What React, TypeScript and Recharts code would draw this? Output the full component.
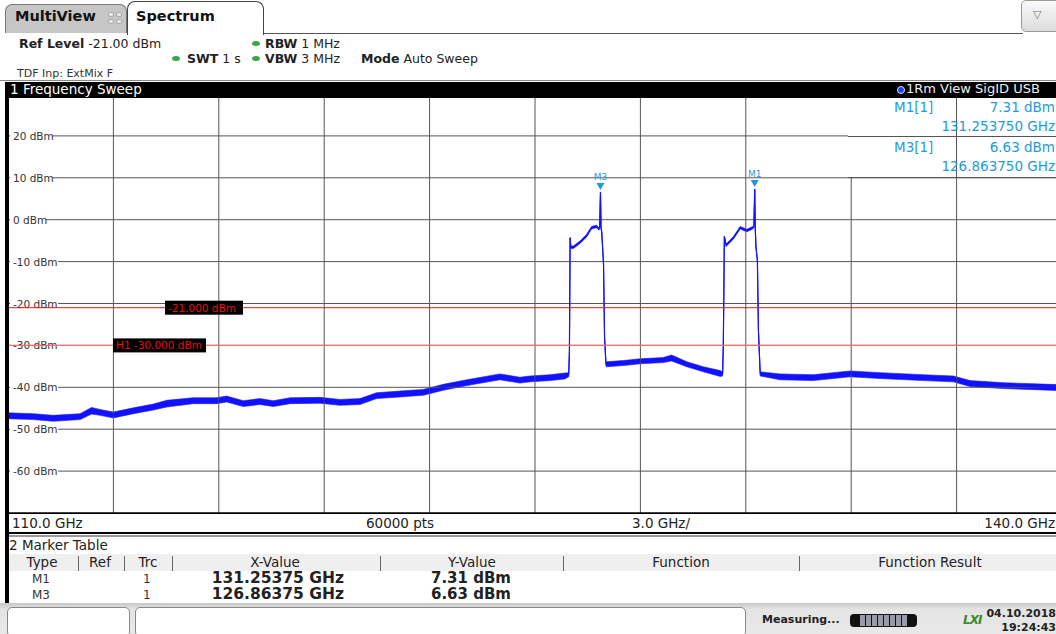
import React from 'react';
import { ComposedChart, Area, Line, XAxis, YAxis, ReferenceLine, ReferenceDot } from 'recharts';

// trace: frequency (GHz), level (dBm), half-height of the noise band (dB)
const freqGHz = [
  110.0, 110.72, 111.29, 112.05, 112.38, 112.62, 113.0, 113.57, 114.14, 114.52,
  115.27, 115.94, 116.22, 116.7, 117.17, 117.55, 118.03, 118.88, 119.45, 120.02,
  120.49, 121.16, 121.82, 122.39, 123.06, 124.0, 124.57, 124.86, 125.43, 125.85,
  125.96, 125.98, 126.0, 126.02, 126.09, 126.28, 126.47, 126.61, 126.75, 126.82,
  126.84, 126.86375, 126.88, 126.9, 126.95, 126.98, 127.02, 127.04, 127.52, 127.99,
  128.65, 128.89, 129.32, 129.79, 130.27, 130.34, 130.36, 130.39, 130.44, 130.65,
  130.84, 131.03, 131.2, 131.23, 131.25375, 131.27, 131.29, 131.33, 131.36, 131.41,
  131.97, 132.92, 133.97, 134.82, 136.05, 136.91, 137.38, 138.33, 139.66, 140.0,
];
const levelDbm = [
  -46.8, -47.0, -47.4, -47.0, -45.6, -46.0, -46.6, -45.6, -44.7, -43.9,
  -43.2, -43.2, -42.8, -43.9, -43.4, -43.9, -43.2, -43.1, -43.6, -43.4,
  -42.0, -41.6, -41.2, -40.0, -38.9, -37.5, -38.3, -38.0, -37.7, -37.3,
  -37.0, -31.3, -4.3, -6.6, -6.6, -5.4, -3.8, -1.9, -1.6, -2.2,
  -1.8, 6.63, -1.9, -3.0, -10.5, -28.1, -34.5, -34.5, -34.2, -33.8,
  -33.5, -33.0, -34.5, -35.7, -36.7, -36.8, -30.0, -4.0, -6.1, -4.3,
  -1.9, -2.6, -1.9, -1.7, 7.31, -2.2, -6.6, -9.7, -26.5, -36.8,
  -37.5, -37.7, -36.8, -37.2, -37.7, -38.0, -39.1, -39.6, -40.0, -40.1,
];
const noiseDb = [
  0.7, 0.7, 0.7, 0.7, 0.8, 0.7, 0.7, 0.7, 0.7, 0.8,
  0.7, 0.7, 0.7, 0.7, 0.7, 0.7, 0.7, 0.7, 0.7, 0.7,
  0.7, 0.7, 0.7, 0.7, 0.7, 0.7, 0.7, 0.7, 0.7, 0.7,
  0.5, 0, 0, 0.3, 0.3, 0.3, 0.3, 0.3, 0.3, 0.3,
  0, 0, 0, 0.3, 0, 0, 0.5, 0.6, 0.6, 0.6,
  0.6, 0.7, 0.6, 0.6, 0.7, 0.5, 0, 0, 0.3, 0.3,
  0.3, 0.3, 0.3, 0, 0, 0, 0.3, 0, 0, 0.5,
  0.7, 0.7, 0.7, 0.7, 0.7, 0.7, 0.7, 0.7, 0.7, 0.7,
];

const levelTicks = [20, 10, 0, -10, -20, -30, -40, -50, -60];
const freqTicks = [113, 116, 119, 122, 125, 128, 131, 134, 137];

const markers = [
  { name: 'M1', freq: 131.25375, level: 7.31, freqText: '131.25375 GHz', freqLong: '131.253750 GHz', levelText: '7.31 dBm' },
  { name: 'M3', freq: 126.86375, level: 6.63, freqText: '126.86375 GHz', freqLong: '126.863750 GHz', levelText: '6.63 dBm' },
];

const REF_LINE = -21;
const H1_LINE = -30;

const data = freqGHz.map((f, i) => ({
  f,
  level: levelDbm[i],
  band: [levelDbm[i] - noiseDb[i], levelDbm[i] + noiseDb[i]],
}));

const BLUE = '#1212ff';
const MARK = '#1f9ad8';
const FONT = '"DejaVu Sans", Verdana, sans-serif';

const abs = (left: number, top: number, extra: React.CSSProperties = {}): React.CSSProperties => ({
  position: 'absolute', left, top, ...extra,
});

const GridLabel = ({ viewBox, value }: any) => {
  const text = `${value} dBm`;
  const w = text.length * 6.3 + 4;
  return (
    <g>
      <rect x={viewBox.x + 2} y={viewBox.y - 7} width={w} height={14} fill="#fff" />
      <text x={viewBox.x + 5} y={viewBox.y + 4} fontSize={10.5} fill="#333" fontFamily={FONT}>{text}</text>
    </g>
  );
};

const LineTag = ({ viewBox, text, dx, w }: any) => (
  <g>
    <rect x={viewBox.x + dx} y={viewBox.y - 7} width={w} height={14} fill="#000" />
    <text x={viewBox.x + dx + 3} y={viewBox.y + 4} fontSize={10.5} fill="#e01010" fontFamily={FONT}>{text}</text>
  </g>
);

const MarkerShape = ({ cx, cy, name }: any) => (
  <g>
    <polygon points={`${cx - 4},${cy - 9} ${cx + 4},${cy - 9} ${cx},${cy - 2}`} fill={MARK} />
    <text x={cx} y={cy - 12} fontSize={9} fill={MARK} textAnchor="middle" fontFamily={FONT}>{name}</text>
  </g>
);

const Dot = ({ x, y }: { x: number; y: number }) => (
  <div style={abs(x, y, { width: 8, height: 5, borderRadius: '50%', background: '#3aa84a' })} />
);

export default function App() {
  return (
    <div style={{ position: 'fixed', left: 0, top: 0, width: 1056, height: 634, overflow: 'hidden', background: '#fff', fontFamily: FONT, color: '#222' }}>
      <ComposedChart width={1070} height={520} data={data} margin={{ top: 94, right: 8, bottom: 7, left: 8 }}>
        <XAxis type="number" dataKey="f" domain={[110, 140]} hide allowDataOverflow />
        <YAxis type="number" domain={[-70, 30]} hide allowDataOverflow />
        {freqTicks.map((f) => (
          <ReferenceLine key={`v${f}`} x={f} stroke="#555" strokeWidth={1} />
        ))}
        {levelTicks.map((v) => (
          <ReferenceLine key={`h${v}`} y={v} stroke="#555" strokeWidth={1}
            label={(p: any) => <GridLabel viewBox={p.viewBox} value={v} />} />
        ))}
        <ReferenceLine y={-70} stroke="#000" strokeWidth={1.5} />
        <Area dataKey="band" type="linear" stroke={BLUE} strokeWidth={0.6} fill={BLUE} fillOpacity={1} isAnimationActive={false} />
        <Line dataKey="level" type="linear" stroke={BLUE} strokeWidth={1.2} dot={false} isAnimationActive={false} />
        <ReferenceLine y={REF_LINE} stroke="#e01818" strokeWidth={1}
          label={(p: any) => <LineTag viewBox={p.viewBox} text="-21.000 dBm" dx={157} w={78} />} />
        <ReferenceLine y={H1_LINE} stroke="#ff6a6a" strokeWidth={1.3}
          label={(p: any) => <LineTag viewBox={p.viewBox} text="H1 -30.000 dBm" dx={105} w={93} />} />
        {markers.map((m) => (
          <ReferenceDot key={m.name} x={m.freq} y={m.level} r={0}
            shape={(p: any) => <MarkerShape cx={p.cx} cy={p.cy} name={m.name} />} />
        ))}
      </ComposedChart>

      {/* tab strip */}
      <div style={abs(0, 0, { width: 1056, height: 34, background: '#fff' })} />
      <div style={abs(263, 33, { width: 760, height: 1, background: '#555' })} />
      <div style={abs(5, 4, { width: 122, height: 29, background: '#c6c6c6', border: '1px solid #777', borderBottom: 'none', borderRadius: '7px 7px 0 0', boxSizing: 'border-box' })} />
      <div style={abs(15, 8, { fontSize: 14.5, fontWeight: 'bold', color: '#111' })}>MultiView</div>
      <div style={abs(108, 12, { width: 14, height: 12, display: 'grid', gridTemplateColumns: '6px 6px', gap: 2 })}>
        {[0, 1, 2, 3].map((i) => <div key={i} style={{ width: 6, height: 5, borderRadius: 2, background: '#e8e8e8', border: '1px solid #aaa', boxSizing: 'border-box' }} />)}
      </div>
      <div style={abs(127, 1, { width: 137, height: 34, background: '#fff', border: '1px solid #444', borderBottom: 'none', borderRadius: '8px 8px 0 0', boxSizing: 'border-box' })} />
      <div style={abs(136, 8, { fontSize: 14.5, fontWeight: 'bold', color: '#111' })}>Spectrum</div>
      <div style={abs(1021, 0, { width: 40, height: 32, background: 'linear-gradient(#fafafa,#dcdcdc)', border: '1px solid #999', borderRadius: 5, boxSizing: 'border-box' })} />
      <div style={abs(1033, 8, { fontSize: 11, color: '#777' })}>▽</div>

      {/* settings */}
      <div style={abs(19, 36, { fontSize: 12.5, whiteSpace: 'nowrap' })}><b>Ref Level</b> -21.00 dBm</div>
      <Dot x={252} y={41} />
      <div style={abs(265, 36, { fontSize: 12.5, whiteSpace: 'nowrap' })}><b>RBW</b> 1 MHz</div>
      <Dot x={172} y={56} />
      <div style={abs(187, 51, { fontSize: 12.5, whiteSpace: 'nowrap' })}><b>SWT</b> 1 s</div>
      <Dot x={252} y={56} />
      <div style={abs(265, 51, { fontSize: 12.5, whiteSpace: 'nowrap' })}><b>VBW</b> 3 MHz</div>
      <div style={abs(361, 51, { fontSize: 12.5, whiteSpace: 'nowrap' })}><b>Mode</b> Auto Sweep</div>
      <div style={abs(17, 67, { fontSize: 11, whiteSpace: 'nowrap', color: '#333' })}>TDF Inp: ExtMix F</div>
      <div style={abs(0, 80, { width: 1056, height: 1, background: '#888' })} />

      {/* window 1 title */}
      <div style={abs(5, 82, { width: 1051, height: 16, background: '#000' })} />
      <div style={abs(10, 81, { fontSize: 13.5, color: '#fff', whiteSpace: 'nowrap' })}>1 Frequency Sweep</div>
      <div style={abs(897, 86, { width: 8, height: 8, borderRadius: '50%', background: '#2040ff', border: '1px solid #ddd', boxSizing: 'border-box' })} />
      <div style={abs(906, 81, { fontSize: 13, color: '#eee', whiteSpace: 'nowrap' })}>1Rm View SigID USB</div>
      <div style={abs(5, 82, { width: 4, height: 523, background: '#000' })} />

      {/* marker readout */}
      <div style={abs(848, 98, { width: 213, height: 80, background: '#fff' })} />
      <div style={abs(848, 136, { width: 213, height: 1, background: '#555' })} />
      <div style={abs(848, 177, { width: 213, height: 1, background: '#555' })} />
      <div style={abs(956, 98, { width: 1, height: 80, background: '#555' })} />
      {markers.map((m, i) => (
        <React.Fragment key={m.name}>
          <div style={abs(894, 99 + i * 40, { fontSize: 13.5, color: MARK })}>{m.name}[1]</div>
          <div style={abs(934, 99 + i * 40, { width: 121, textAlign: 'right', fontSize: 13.5, color: MARK, whiteSpace: 'nowrap' })}>{m.levelText}</div>
          <div style={abs(890, 118 + i * 40, { width: 165, textAlign: 'right', fontSize: 13.5, color: MARK, whiteSpace: 'nowrap' })}>{m.freqLong}</div>
        </React.Fragment>
      ))}

      {/* footer of sweep window */}
      <div style={abs(9, 514, { width: 1047, height: 19, background: '#fff' })} />
      <div style={abs(9, 513, { width: 1047, height: 1, background: '#000' })} />
      <div style={abs(12, 515, { fontSize: 13.5 })}>110.0 GHz</div>
      <div style={abs(366, 515, { fontSize: 13.5 })}>60000 pts</div>
      <div style={abs(632, 515, { fontSize: 13.5 })}>3.0 GHz/</div>
      <div style={abs(939, 515, { width: 116, textAlign: 'right', fontSize: 13.5, whiteSpace: 'nowrap' })}>140.0 GHz</div>
      <div style={abs(9, 532, { width: 1047, height: 1.5, background: '#000' })} />
      <div style={abs(9, 535, { width: 1047, height: 1.5, background: '#999' })} />

      {/* marker table */}
      <div style={abs(9, 537, { fontSize: 13.5, whiteSpace: 'nowrap' })}>2 Marker Table</div>
      <div style={abs(9, 554, { width: 1047, height: 17, background: '#efefef' })} />
      {[
        { t: 'Type', c: 42 }, { t: 'Ref', c: 100 }, { t: 'Trc', c: 148 }, { t: 'X-Value', c: 275 },
        { t: 'Y-Value', c: 472 }, { t: 'Function', c: 681 }, { t: 'Function Result', c: 930 },
      ].map((h) => (
        <div key={h.t} style={abs(h.c - 80, 554, { width: 160, textAlign: 'center', fontSize: 13.5 })}>{h.t}</div>
      ))}
      {[78, 124, 172, 380, 563, 799].map((x) => (
        <div key={x} style={abs(x, 556, { width: 1, height: 15, background: '#666' })} />
      ))}
      {markers.map((m, i) => (
        <React.Fragment key={m.name}>
          <div style={abs(32, 572 + i * 16, { fontSize: 12, color: '#333' })}>{m.name}</div>
          <div style={abs(143, 572 + i * 16, { fontSize: 12, color: '#333' })}>1</div>
          <div style={abs(150, 569 + i * 16, { width: 194, textAlign: 'right', fontSize: 15.5, fontWeight: 'bold', whiteSpace: 'nowrap' })}>{m.freqText}</div>
          <div style={abs(380, 569 + i * 16, { width: 131, textAlign: 'right', fontSize: 15, fontWeight: 'bold', whiteSpace: 'nowrap' })}>{m.levelText}</div>
        </React.Fragment>
      ))}

      {/* status bar */}
      <div style={abs(0, 603, { width: 1056, height: 31, background: 'linear-gradient(#c8c8c8,#e4e4e4 20%,#e8e8e8)' })} />
      <div style={abs(7, 607, { width: 123, height: 30, background: '#fff', border: '1px solid #888', borderRadius: 5, boxSizing: 'border-box' })} />
      <div style={abs(135, 607, { width: 611, height: 30, background: '#fff', border: '1px solid #888', borderRadius: 5, boxSizing: 'border-box' })} />
      <div style={abs(762, 613, { fontSize: 11, fontWeight: 'bold', color: '#222' })}>Measuring...</div>
      <div style={abs(850, 614, { width: 67, height: 13, background: '#111', borderRadius: 4, display: 'flex', alignItems: 'center', justifyContent: 'center', gap: 1 })}>
        {[0, 1, 2, 3, 4, 5, 6, 7].map((i) => <div key={i} style={{ width: 5, height: 11, background: '#9a9aa8' }} />)}
      </div>
      <div style={abs(963, 613, { fontSize: 12, fontWeight: 'bold', fontStyle: 'italic', color: '#3b8a2e', letterSpacing: -1 })}>LXI</div>
      <div style={abs(980, 607, { width: 76, textAlign: 'right', fontSize: 11, fontWeight: 'bold', color: '#222' })}>04.10.2018</div>
      <div style={abs(980, 621, { width: 76, textAlign: 'right', fontSize: 11, fontWeight: 'bold', color: '#222' })}>19:24:43</div>
    </div>
  );
}
